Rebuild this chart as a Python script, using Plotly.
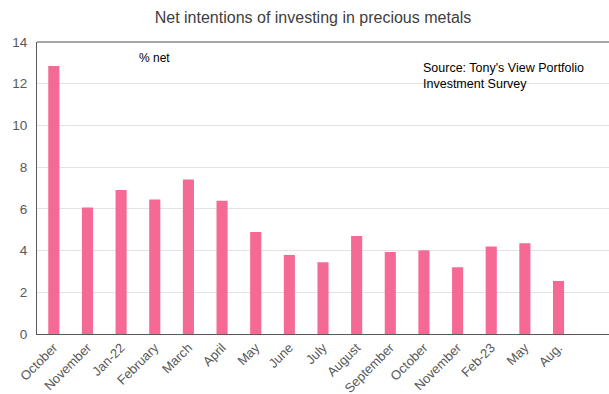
import plotly.graph_objects as go

categories = ["October", "November", "Jan-22", "February", "March", "April", "May", "June",
              "July", "August", "September", "October", "November", "Feb-23", "May", "Aug.", ""]
values = [12.85, 6.06, 6.9, 6.45, 7.41, 6.39, 4.89, 3.79,
          3.44, 4.70, 3.93, 4.01, 3.20, 4.19, 4.35, 2.54, None]
y_ticks = [0, 2, 4, 6, 8, 10, 12, 14]

positions = list(range(len(categories)))

fig = go.Figure(go.Bar(
    x=positions, y=values, marker_color="#F46A94", width=0.33,
    marker_line_width=0, hoverinfo="skip",
))
fig.update_layout(
    width=609, height=394,
    margin=dict(l=37, r=0, t=42, b=60, autoexpand=False),
    paper_bgcolor="white", plot_bgcolor="white",
    font=dict(family="Liberation Sans, Arial, sans-serif", color="#595959", size=12),
    title=dict(text="Net intentions of investing in precious metals", x=0.514, xanchor="center",
               y=0.955, yanchor="middle", font=dict(size=16, color="#404040")),
    showlegend=False,
    bargap=0.67,
    xaxis=dict(tickmode="array", tickvals=positions, ticktext=categories, tickangle=-45,
               range=[-0.5, len(categories) - 0.5], showgrid=False, automargin=False,
               showline=True, linecolor="#595959", linewidth=1, ticks="",
               tickfont=dict(size=13, color="#595959")),
    yaxis=dict(range=[0, 14], tickvals=y_ticks, showgrid=True, gridcolor="#E3E3E3",
               showline=True, linecolor="#595959", linewidth=1, mirror=False, ticks="",
               ticklabelstandoff=6,
               automargin=False, tickfont=dict(size=13.5, color="#595959"), zeroline=False),
    shapes=[dict(type="line", xref="paper", yref="paper", x0=0, x1=1, y0=1, y1=1,
                 line=dict(color="#A6A6A6", width=2), layer="above")],
    annotations=[
        dict(text="% net", xref="paper", yref="paper", x=0.205, y=0.945, showarrow=False,
             xanchor="center", yanchor="middle", font=dict(size=12, color="#000000")),
        dict(text="Source: Tony's View Portfolio<br>Investment Survey", xref="paper", yref="paper",
             x=0.672, y=0.885, showarrow=False, xanchor="left", yanchor="middle", align="left",
             font=dict(size=12.5, color="#000000")),
    ],
)
fig.write_html("out.html", config={"displayModeBar": False},
               post_script="document.body.style.margin='0';document.body.style.overflow='hidden';")
